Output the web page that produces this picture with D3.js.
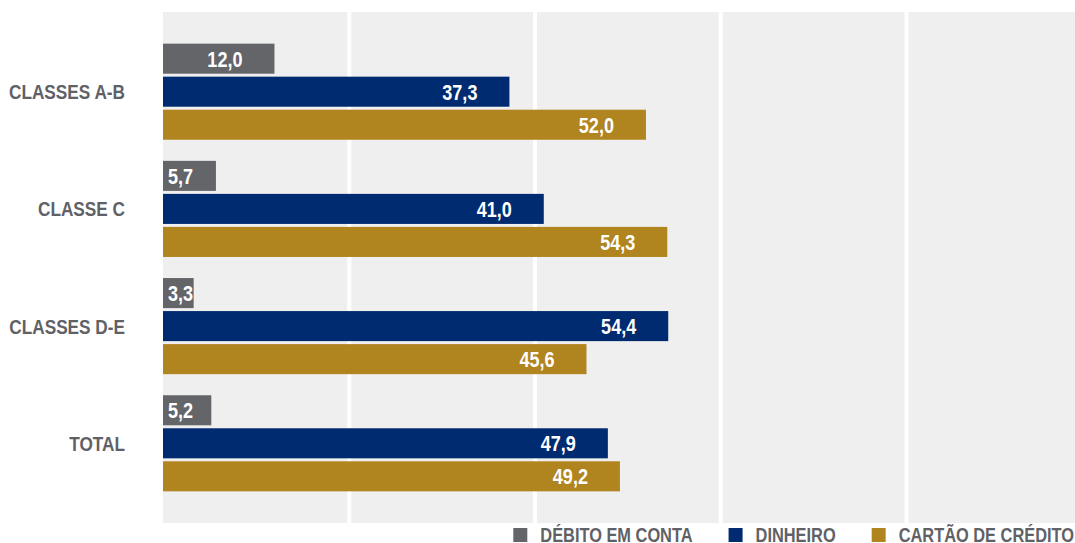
<!DOCTYPE html>
<html lang="pt-BR">
<head>
<meta charset="utf-8">
<script src="https://cdn.jsdelivr.net/npm/d3@7"></script>
<style>
  html, body { margin: 0; padding: 0; background: #ffffff; }
  svg { display: block; }
  text { font-family: "Liberation Sans", Arial, sans-serif; font-weight: bold; }
</style>
</head>
<body>
<svg id="chart" width="1075" height="543"></svg>
<script>
// Forma de pagamento por classe social (%)
const categories = ["CLASSES A-B", "CLASSE C", "CLASSES D-E", "TOTAL"];
const seriesNames = ["DÉBITO EM CONTA", "DINHEIRO", "CARTÃO DE CRÉDITO"];
const debito   = [12.0, 5.7, 3.3, 5.2];
const dinheiro = [37.3, 41.0, 54.4, 47.9];
const cartao   = [52.0, 54.3, 45.6, 49.2];
const gridTicks = [20, 40, 60, 80];

const seriesValues = [debito, dinheiro, cartao];
const colors = ["#636569", "#002b70", "#b0841f"];
const textGray = "#5f6166";
const NARROW = 0.82;   // horizontal squeeze for a condensed look

const plot = { left: 163, right: 1075, top: 12, bottom: 523 };

const svg = d3.select("#chart");

const x = d3.scaleLinear().domain([0, 98.2]).range([plot.left, plot.right]);

const y0 = d3.scaleBand()
  .domain(categories)
  .range([plot.top, plot.bottom])
  .paddingInner(0.18)
  .paddingOuter(0.27);

const y1 = d3.scaleBand()
  .domain(seriesNames)
  .range([0, y0.bandwidth()])
  .paddingInner(0.09)
  .paddingOuter(0);

// plot background
svg.append("rect")
  .attr("x", plot.left).attr("y", plot.top)
  .attr("width", plot.right - plot.left).attr("height", plot.bottom - plot.top)
  .attr("fill", "#efefef");

// vertical gridlines
const gx = svg.append("g")
  .attr("transform", `translate(0,${plot.bottom})`)
  .call(d3.axisBottom(x).tickValues(gridTicks)
    .tickSize(-(plot.bottom - plot.top)).tickFormat(""));
gx.select(".domain").remove();
gx.selectAll(".tick line").attr("stroke", "#ffffff").attr("stroke-width", 4);

// category labels
const gy = svg.append("g")
  .attr("transform", `translate(${plot.left - 38},0)`)
  .call(d3.axisLeft(y0).tickSize(0).tickPadding(0));
gy.select(".domain").remove();
gy.selectAll(".tick text")
  .attr("x", 0)
  .attr("fill", textGray)
  .attr("transform", `scale(${NARROW},1)`)
  .style("font-size", "21px")
  .style("font-family", "'Liberation Sans', Arial, sans-serif")
  .style("font-weight", "bold")
  .attr("dy", "0.36em");

// bars
const rows = categories.map((c, i) => ({
  category: c,
  items: seriesNames.map((s, j) => ({ series: s, value: seriesValues[j][i], color: colors[j] }))
}));

const groups = svg.append("g").selectAll("g")
  .data(rows).join("g")
  .attr("transform", d => `translate(0,${y0(d.category)})`);

groups.selectAll("rect")
  .data(d => d.items).join("rect")
  .attr("x", x(0))
  .attr("y", d => y1(d.series))
  .attr("width", d => x(d.value) - x(0))
  .attr("height", y1.bandwidth())
  .attr("fill", d => d.color);

const fmt = v => d3.format(".1f")(v).replace(".", ",");

// value labels, right-aligned inside the bar end
const labelGroups = groups.selectAll("g.value")
  .data(d => d.items).join("g")
  .attr("class", "value");

labelGroups.append("text")
  .attr("text-anchor", "end")
  .attr("dy", "0.36em")
  .attr("fill", "#ffffff")
  .attr("transform", `scale(${NARROW},1)`)
  .style("font-size", "22px")
  .text(d => fmt(d.value));

labelGroups.each(function (d) {
  const w = this.querySelector("text").getComputedTextLength() * NARROW;
  const end = x(d.value) - 32;
  const minEnd = x(0) + 5 + w;
  d3.select(this).attr("transform",
    `translate(${Math.max(end, minEnd)},${y1(d.series) + y1.bandwidth() / 2})`);
});

// legend, laid out right to left
const legend = svg.append("g");
let cursor = 1074;
for (let j = seriesNames.length - 1; j >= 0; j--) {
  const item = legend.append("g").attr("transform", `translate(${cursor},542)`);
  const t = item.append("text")
    .attr("text-anchor", "end")
    .attr("fill", textGray)
    .attr("transform", `scale(${NARROW},1)`)
    .style("font-size", "20px")
    .text(seriesNames[j]);
  const w = t.node().getComputedTextLength() * NARROW;
  const sqX = cursor - w - 13 - 14;
  legend.append("rect")
    .attr("x", sqX).attr("y", 528)
    .attr("width", 14).attr("height", 14)
    .attr("fill", colors[j]);
  cursor = sqX - 36;
}
</script>
</body>
</html>
